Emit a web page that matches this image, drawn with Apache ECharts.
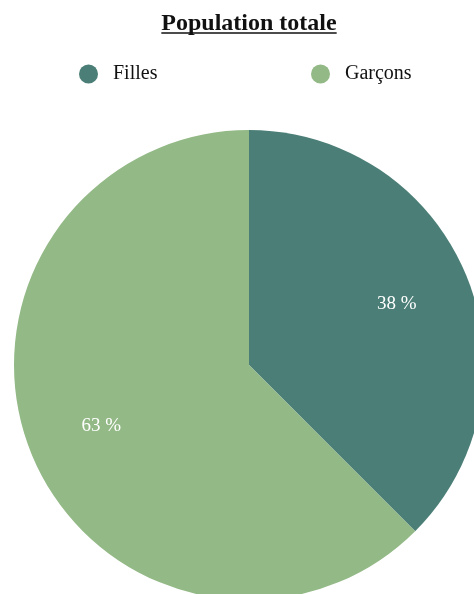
<!DOCTYPE html>
<html>
<head>
<meta charset="utf-8">
<script src="https://cdn.jsdelivr.net/npm/echarts@6/dist/echarts.min.js"></script>
<style>
  html, body { margin: 0; padding: 0; background: #fff; }
  #chart { width: 474px; height: 594px; }
</style>
</head>
<body>
<div id="chart"></div>
<script>
  // données
  const categories = ['Filles', 'Garçons']
  const values = [37.5, 62.5]
  const colors = ['#4a7e76', '#93b986']

  const titleText = 'Population totale'
  const font = '"Liberation Serif", "DejaVu Serif", serif'
  const titleSize = 24

  // largeur du titre pour le soulignement
  const ctx = document.createElement('canvas').getContext('2d')
  ctx.font = 'bold ' + titleSize + 'px ' + font
  const titleW = ctx.measureText(titleText).width

  const pieData = categories.map((name, i) => ({
    name: name,
    value: values[i],
    itemStyle: { color: colors[i] }
  }))

  const myChart = echarts.init(document.getElementById('chart'))
  const option = {
    animation: false,
    title: {
      text: titleText,
      left: 249 - titleW / 2 - 5,
      top: 7,
      textStyle: {
        fontFamily: font,
        fontSize: titleSize,
        fontWeight: 'bold',
        color: '#111'
      }
    },
    graphic: [{
      type: 'line',
      shape: { x1: 249 - titleW / 2, y1: 33, x2: 249 + titleW / 2, y2: 33 },
      style: { stroke: '#111', lineWidth: 1.5 }
    }],
    legend: [
      {
        left: 74, top: 59,
        icon: 'circle', itemWidth: 19, itemHeight: 19, itemGap: 8,
        data: ['Filles'],
        textStyle: { fontFamily: font, fontSize: 20, color: '#111', padding: [0, 0, 0, 10] }
      },
      {
        left: 306, top: 59,
        icon: 'circle', itemWidth: 19, itemHeight: 19, itemGap: 8,
        data: ['Garçons'],
        textStyle: { fontFamily: font, fontSize: 20, color: '#111', padding: [0, 0, 0, 10] }
      }
    ],
    series: [
      {
        type: 'pie',
        center: [249, 365],
        radius: [0, 235],
        startAngle: 90,
        label: { show: false },
        labelLine: { show: false },
        emphasis: { disabled: true },
        data: pieData
      },
      {
        // série transparente, juste pour placer les libellés à 2/3 du rayon
        type: 'pie',
        center: [249, 365],
        radius: [79, 235],
        startAngle: 90,
        silent: true,
        itemStyle: { color: 'transparent' },
        label: {
          show: true,
          position: 'inside',
          fontFamily: font,
          fontSize: 19,
          color: '#fff',
          formatter: p => Math.round(p.value) + ' %'
        },
        labelLine: { show: false },
        data: categories.map((name, i) => ({ name: name, value: values[i] }))
      }
    ]
  }
  myChart.setOption(option)
</script>
</body>
</html>
